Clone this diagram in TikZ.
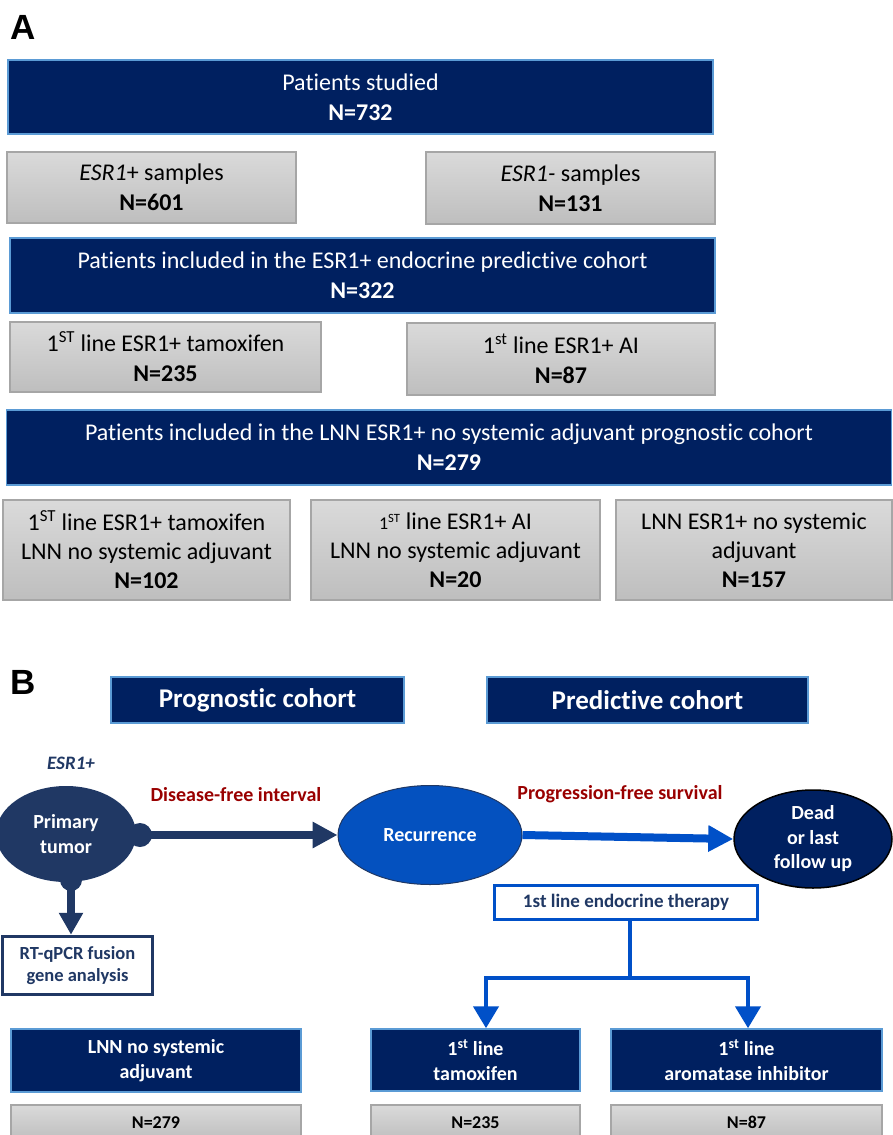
\documentclass[tikz,border=0pt]{standalone}
\usepackage{fontspec}
\setmainfont{Carlito}[RawFeature={-liga;-calt;-dlig;-clig}]
\newfontfamily\lblfont{Liberation Sans}
\usetikzlibrary{arrows.meta,shapes.geometric}
\definecolor{navy}{HTML}{002060}
\definecolor{lightb}{HTML}{5B9BD5}
\definecolor{graytop}{HTML}{DADADA}
\definecolor{graybot}{HTML}{BEBEBE}
\definecolor{grayb}{HTML}{A6A6A6}
\definecolor{tumorc}{HTML}{203864}
\definecolor{recc}{HTML}{0451BF}
\definecolor{arrb}{HTML}{0050C8}
\definecolor{dred}{HTML}{990000}
\begin{document}
\begin{tikzpicture}[x=1pt,y=-1pt,
  navybox/.style={draw=lightb, line width=1.5pt, fill=navy, text=white, inner sep=0pt, align=center},
  graybox/.style={draw=grayb, line width=1.2pt, top color=graytop, bottom color=graybot, inner sep=0pt, align=center, text=black},
  fA/.style={font=\fontsize{24}{30}\selectfont},
  fA3/.style={font=\fontsize{24}{29}\selectfont},
  fB/.style={font=\fontsize{20}{24.5}\selectfont\bfseries},
  lbl/.style={font=\lblfont\fontsize{35}{40}\selectfont\bfseries, inner sep=0pt},
  bigarrow/.style={line width=8pt, -{Triangle[length=25pt,width=25pt]}},
  thinarrow/.style={line width=4.5pt, arrb, -{Triangle[length=22pt,width=25pt]}},
]
\useasboundingbox (0,0) rectangle (893,1135);

% ---------------- A ----------------
\node[lbl] (labA) at (23,27) {A};
\node[navybox, fA, minimum width=705pt, minimum height=74pt] (studied) at (360.5,97) {Patients studied\\\textbf{N=732}};
\node[graybox, fA, minimum width=289pt, minimum height=71pt] (esrpos) at (151.5,187.5) {\textit{ESR1}+ samples\\\textbf{N=601}};
\node[graybox, fA, minimum width=289pt, minimum height=72pt] (esrneg) at (570.5,188) {\textit{ESR1-} samples\\\textbf{N=131}};
\node[navybox, fA, minimum width=705pt, minimum height=75pt] (endo) at (362.5,275.5) {Patients included in the ESR1+ endocrine predictive cohort\\\textbf{N=322}};
\node[graybox, fA, minimum width=311pt, minimum height=70pt] (tam) at (165.5,357) {1\textsuperscript{ST} line ESR1+ tamoxifen\\\textbf{N=235}};
\node[graybox, fA, minimum width=308pt, minimum height=72pt] (ai) at (561,359) {1\textsuperscript{st} line ESR1+ AI\\\textbf{N=87}};
\node[navybox, fA, minimum width=885pt, minimum height=75pt] (lnn) at (449,447.5) {Patients included in the LNN ESR1+ no systemic adjuvant prognostic cohort\\\textbf{N=279}};
\node[graybox, fA3, minimum width=287pt, minimum height=100pt] (b1) at (146.5,550) {1\textsuperscript{ST} line ESR1+ tamoxifen\\LNN no systemic adjuvant\\\textbf{N=102}};
\node[graybox, fA3, minimum width=289pt, minimum height=100pt] (b2) at (455.5,550) {{\fontsize{18}{20}\selectfont 1\textsuperscript{ST}} line ESR1+ AI\\LNN no systemic adjuvant\\\textbf{N=20}};
\node[graybox, fA3, minimum width=276pt, minimum height=100pt] (b3) at (754,550) {LNN ESR1+ no systemic\\adjuvant\\\textbf{N=157}};

% ---------------- B ----------------
\node[lbl] (labB) at (23,682) {B};
\node[navybox, font=\fontsize{27}{32}\selectfont\bfseries, minimum width=293pt, minimum height=46pt] (prog) at (257.5,700) {Prognostic cohort};
\node[navybox, font=\fontsize{27}{32}\selectfont\bfseries, minimum width=321pt, minimum height=46pt] (pred) at (647.5,700) {Predictive cohort};

\node[font=\fontsize{19}{22}\selectfont\bfseries\itshape, text=tumorc] (esrl) at (71,763) {ESR1+};

\node[ellipse, fill=tumorc, minimum width=140pt, minimum height=96pt, inner sep=0pt] (tumor) at (66,834) {};
\node[circle, fill=tumorc, minimum size=24pt, inner sep=0pt] (dotr) at (140,835) {};
\node[circle, fill=tumorc, minimum size=22pt, inner sep=0pt] (dotb) at (71,880) {};
\node[fB, text=white, align=center] (tumortxt) at (tumor.center) {Primary\\tumor};

\node[ellipse, draw=tumorc, line width=1pt, fill=recc, minimum width=184pt, minimum height=99pt, inner sep=0pt, fB, text=white] (rec) at (430,835) {Recurrence};
\node[ellipse, draw=black, line width=1.5pt, fill=navy, minimum width=158pt, minimum height=98pt, inner sep=0pt, fB, text=white, align=center] (dead) at (813,839) {Dead\\or last\\follow up};

\node[fB, text=dred] (dfi) at (236,795) {Disease-free interval};
\node[fB, text=dred] (pfs) at (620,794) {Progression-free survival};

\draw[bigarrow, tumorc] (dotr.center) -- (rec.west);
\draw[bigarrow, arrb] (rec.east) -- (dead.west);

\node[draw=tumorc, line width=3.5pt, fill=white, minimum width=150pt, minimum height=58pt, inner sep=0pt, align=center, text=tumorc, font=\fontsize{18.5}{22}\selectfont\bfseries] (rtq) at (77.5,965.5) {RT-qPCR fusion\\gene analysis};
\draw[bigarrow, tumorc, line width=7.5pt, -{Triangle[length=22pt,width=23pt]}] (dotb.center) -- (dotb.center |- rtq.north);

\node[draw=arrb, line width=3.5pt, fill=white, minimum width=263pt, minimum height=34pt, inner sep=0pt, text=tumorc, font=\fontsize{19}{22}\selectfont\bfseries] (endob) at (626,902.5) {1st line endocrine therapy};

\node[navybox, fB, minimum width=290pt, minimum height=63pt] (lnnb) at (156,1060.5) {LNN no systemic\\adjuvant};
\node[navybox, fB, minimum width=209pt, minimum height=62pt] (tamb) at (475.5,1060) {1\textsuperscript{st} line\\tamoxifen};
\node[navybox, fB, minimum width=271pt, minimum height=62pt] (aib) at (746.5,1060) {1\textsuperscript{st} line\\aromatase inhibitor};

\coordinate (junc) at (630,978);
\coordinate (jl) at (486,978);
\coordinate (jr) at (748,978);
\draw[arrb, line width=4.5pt] (endob.south -| junc) -- (junc);
\draw[thinarrow, line join=miter] (junc) -- (jl) -- (jl |- tamb.north);
\draw[thinarrow, line join=miter] (junc) -- (jr) -- (jr |- aib.north);

\node[graybox, font=\fontsize{18}{22}\selectfont\bfseries, minimum width=290pt, minimum height=35pt] (n1) at (156,1122.5) {N=279};
\node[graybox, font=\fontsize{18}{22}\selectfont\bfseries, minimum width=209pt, minimum height=35pt] (n2) at (475.5,1122.5) {N=235};
\node[graybox, font=\fontsize{18}{22}\selectfont\bfseries, minimum width=271pt, minimum height=35pt] (n3) at (746.5,1122.5) {N=87};
\end{tikzpicture}
\end{document}
